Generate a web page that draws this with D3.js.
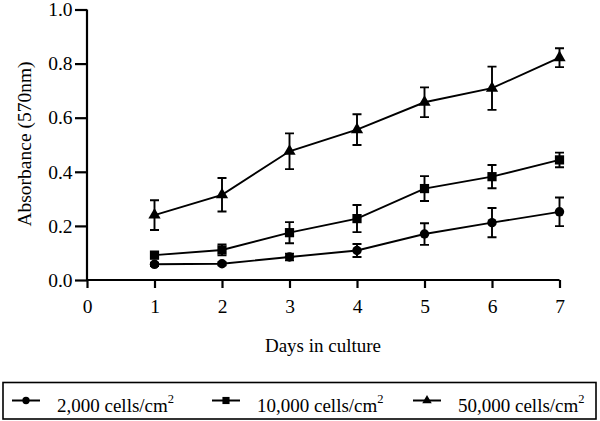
<!DOCTYPE html>
<html><head><meta charset="utf-8">
<script src="https://cdn.jsdelivr.net/npm/d3@7"></script>
<style>body{margin:0;background:#fff}svg{display:block}text{font-family:"Liberation Serif","Times New Roman",serif;fill:#000}</style>
</head><body><svg id="c" width="600" height="421"></svg>
<script>
const days = [1,2,3,4,5,6,7];
const xTicks = [0,1,2,3,4,5,6,7];
const yTicks = [0,0.2,0.4,0.6,0.8,1.0];
const seriesNames = ["2,000 cells/cm", "10,000 cells/cm", "50,000 cells/cm"];
const seriesSymbols = ["circle","square","triangle"];
const mean2000 = [0.058,0.060,0.085,0.109,0.170,0.212,0.252];
const err2000  = [0.006,0.006,0.012,0.024,0.040,0.054,0.053];
const mean10000 = [0.092,0.111,0.175,0.227,0.338,0.382,0.444];
const err10000  = [0.012,0.020,0.039,0.050,0.046,0.043,0.027];
const mean50000 = [0.240,0.315,0.476,0.556,0.657,0.709,0.822];
const err50000  = [0.055,0.062,0.066,0.057,0.055,0.080,0.035];

const series = [
  {name:seriesNames[0], sym:seriesSymbols[0], mean:mean2000, err:err2000},
  {name:seriesNames[1], sym:seriesSymbols[1], mean:mean10000, err:err10000},
  {name:seriesNames[2], sym:seriesSymbols[2], mean:mean50000, err:err50000}
];

const svg = d3.select("#c");
const x = d3.scaleLinear().domain([0,7]).range([87,559.5]);
const y = d3.scaleLinear().domain([0,1]).range([280,9.5]);

const xAxis = svg.append("g").attr("transform","translate(0,280)")
  .call(d3.axisBottom(x).tickValues(xTicks).tickFormat(d3.format("d")).tickSize(8).tickPadding(11));
const yAxis = svg.append("g").attr("transform","translate(87,0)")
  .call(d3.axisLeft(y).tickValues(yTicks).tickFormat(d3.format(".1f")).tickSize(12).tickPadding(2.5));
[xAxis,yAxis].forEach(g=>{
  g.selectAll("path").attr("stroke","#000").attr("stroke-width",2.2);
  g.selectAll("line").attr("stroke","#000").attr("stroke-width",2.2);
  g.selectAll("text").style("font-size","19.5px").style("font-family","'Liberation Serif',serif").attr("fill","#000");
});
xAxis.select(".domain").attr("d","M87,0H559.5");
yAxis.select(".domain").attr("d","M0,9.5V280");

svg.append("text").attr("transform","translate(31,144) rotate(-90)")
  .attr("text-anchor","middle").style("font-size","19.5px").text("Absorbance (570nm)");
svg.append("text").attr("x",323).attr("y",352).attr("text-anchor","middle")
  .style("font-size","19px").text("Days in culture");

const symMap = {circle:d3.symbolCircle, square:d3.symbolSquare, triangle:d3.symbolTriangle};
const symSize = {circle:70, square:85, triangle:65};

const line = d3.line().x((d,i)=>x(days[i])).y(d=>y(d));
series.forEach(s=>{
  const g = svg.append("g");
  g.append("path").attr("d",line(s.mean)).attr("fill","none").attr("stroke","#000").attr("stroke-width",1.9);
  s.mean.forEach((m,i)=>{
    const cx = x(days[i]), t = y(m+s.err[i]), b = y(m-s.err[i]);
    g.append("path").attr("d",`M${cx},${t}V${b}M${cx-4.5},${t}H${cx+4.5}M${cx-4.5},${b}H${cx+4.5}`)
      .attr("stroke","#000").attr("stroke-width",1.9).attr("fill","none");
    g.append("path").attr("d",d3.symbol(symMap[s.sym], symSize[s.sym])())
      .attr("transform",`translate(${cx},${y(m)})`).attr("fill","#000");
  });
});

// legend
const lg = svg.append("g");
lg.append("rect").attr("x",3).attr("y",382.5).attr("width",593).attr("height",36.5)
  .attr("fill","none").attr("stroke","#000").attr("stroke-width",1.6);
const legX = [12, 212, 413];
series.forEach((s,i)=>{
  const lx = legX[i], ly = 400.5;
  lg.append("line").attr("x1",lx).attr("x2",lx+28).attr("y1",ly).attr("y2",ly)
    .attr("stroke","#000").attr("stroke-width",2);
  lg.append("path").attr("d",d3.symbol(symMap[s.sym], symSize[s.sym]*0.6)())
    .attr("transform",`translate(${lx+14},${ly})`).attr("fill","#000");
  const t = lg.append("text").attr("x",lx+45).attr("y",412).style("font-size","19px");
  t.append("tspan").text(s.name);
  t.append("tspan").attr("dy",-9.5).style("font-size","12.5px").text("2");
});
</script></body></html>
